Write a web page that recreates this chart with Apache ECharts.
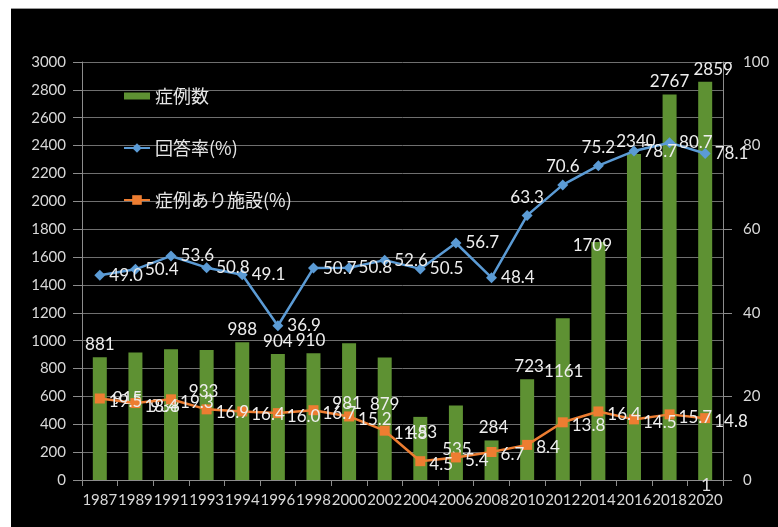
<!DOCTYPE html>
<html>
<head>
<meta charset="utf-8">
<script src="https://cdn.jsdelivr.net/npm/echarts@6/dist/echarts.min.js"></script>
<style>
  html, body { margin: 0; padding: 0; background: #ffffff; }
  #panel { position: absolute; left: 11px; top: 8px; width: 767px; height: 519px; background: #000000; border-top: 1px solid #9a9a9a; }
  #chart { position: absolute; left: 0; top: 0; width: 778px; height: 527px; }
</style>
</head>
<body>
<div id="panel"></div>
<div id="chart"></div>
<script>
// Survey years
const years = ['1987','1989','1991','1993','1994','1996','1998','2000','2002','2004','2006','2008','2010','2012','2014','2016','2018','2020'];
// 症例数 (number of cases)
const caseCounts = [881, 915, 938, 933, 988, 904, 910, 981, 879, 453, 535, 284, 723, 1161, 1709, 2340, 2767, 2859];
// 回答率 (%)
const responseRate = [49.0, 50.4, 53.6, 50.8, 49.1, 36.9, 50.7, 50.8, 52.6, 50.5, 56.7, 48.4, 63.3, 70.6, 75.2, 78.7, 80.7, 78.1];
// 症例あり施設 (%)
const facilityRate = [19.5, 18.4, 19.3, 16.9, 16.4, 16.0, 16.7, 15.2, 11.8, 4.5, 5.4, 6.7, 8.4, 13.8, 16.4, 14.5, 15.7, 14.8];
// Left and right axis ranges
const leftAxis = { min: 0, max: 3000, step: 200 };
const rightAxis = { min: 0, max: 100, step: 20 };

// Hand-placed nudges for the count labels (dx, dy in px)
const countLabelNudge = [[0,0],[-8,59],[-6,70],[-3,54],[0,0],[0,0],[-3,0],[-2,73],[0,59],[2,28],[1,57],[2,0],[2,0],[1,66],[-6,16],[2,0],[0,0],[8,0]];
// Response-rate labels that sit above their point instead of to the right
const rateLabelAbove = new Set([12, 13, 14]);

const numFont = 'Lato, "Open Sans", sans-serif';
const cjkFont = '"Noto Sans CJK JP", sans-serif';
const GREEN = '#5e9133';
const BLUE = '#5b9bd5';
const ORANGE = '#ed7d31';

const chart = echarts.init(document.getElementById('chart'), null, { renderer: 'canvas' });

const barData = caseCounts.map((v, i) => ({
  value: v,
  label: { offset: countLabelNudge[i] }
}));
const rateData = responseRate.map((v, i) => ({
  value: v,
  label: { position: rateLabelAbove.has(i) ? 'top' : 'right' }
}));

const valueLabel = {
  show: true,
  color: '#eeeeee',
  fontSize: 17,
  fontFamily: numFont
};

chart.setOption({
  backgroundColor: 'transparent',
  animation: false,
  grid: { left: 82, right: 55, top: 62, bottom: 47 },
  legend: {
    orient: 'vertical',
    left: 118,
    top: 82,
    itemGap: 34,
    itemWidth: 26,
    itemHeight: 12,
    textStyle: { color: '#e6e6e6', fontSize: 18, fontFamily: cjkFont },
    data: [
      { name: '症例数', icon: 'path://M0,0h26v7h-26z' },
      { name: '回答率(%)' },
      { name: '症例あり施設(%)' }
    ]
  },
  xAxis: {
    type: 'category',
    data: years,
    axisLine: { lineStyle: { color: '#8c8c8c', width: 1 } },
    axisTick: { show: true, length: 6, lineStyle: { color: '#8c8c8c' } },
    axisLabel: { interval: 0, color: '#d8d8d8', fontSize: 15, fontFamily: numFont, margin: 13 }
  },
  yAxis: [
    {
      type: 'value',
      min: leftAxis.min, max: leftAxis.max, interval: leftAxis.step,
      axisLine: { show: true, lineStyle: { color: '#8c8c8c' } },
      axisTick: { show: true, length: 9, lineStyle: { color: '#8c8c8c' } },
      axisLabel: { color: '#d8d8d8', fontSize: 15, fontFamily: numFont, margin: 16, formatter: v => String(v) },
      splitLine: { show: true, lineStyle: { color: '#6f6f6f', width: 1 } }
    },
    {
      type: 'value',
      min: rightAxis.min, max: rightAxis.max, interval: rightAxis.step,
      axisLine: { show: true, lineStyle: { color: '#8c8c8c' } },
      axisTick: { show: true, length: 9, lineStyle: { color: '#8c8c8c' } },
      axisLabel: { color: '#d8d8d8', fontSize: 15, fontFamily: numFont, margin: 20, formatter: v => String(v) },
      splitLine: { show: false }
    }
  ],
  series: [
    {
      name: '症例数',
      type: 'bar',
      yAxisIndex: 0,
      barWidth: 14,
      itemStyle: { color: GREEN },
      data: barData,
      z: 2,
      label: Object.assign({ position: 'top', distance: 4 }, valueLabel)
    },
    {
      name: '回答率(%)',
      type: 'line',
      yAxisIndex: 1,
      data: rateData,
      symbol: 'diamond',
      symbolSize: 11,
      itemStyle: { color: BLUE },
      lineStyle: { color: BLUE, width: 2.5 },
      z: 3,
      label: Object.assign({ distance: 4, formatter: p => p.value.toFixed(1) }, valueLabel)
    },
    {
      name: '症例あり施設(%)',
      type: 'line',
      yAxisIndex: 1,
      data: facilityRate,
      symbol: 'rect',
      symbolSize: 10,
      itemStyle: { color: ORANGE },
      lineStyle: { color: ORANGE, width: 2.5 },
      z: 3,
      label: Object.assign({ position: 'right', distance: 4, offset: [0, 3], formatter: p => p.value.toFixed(1) }, valueLabel)
    }
  ],
  graphic: [
    {
      type: 'text',
      left: 701,
      top: 476,
      z: 10,
      style: { text: '1', fill: '#dddddd', fontSize: 18, fontFamily: numFont }
    }
  ]
});
</script>
</body>
</html>
